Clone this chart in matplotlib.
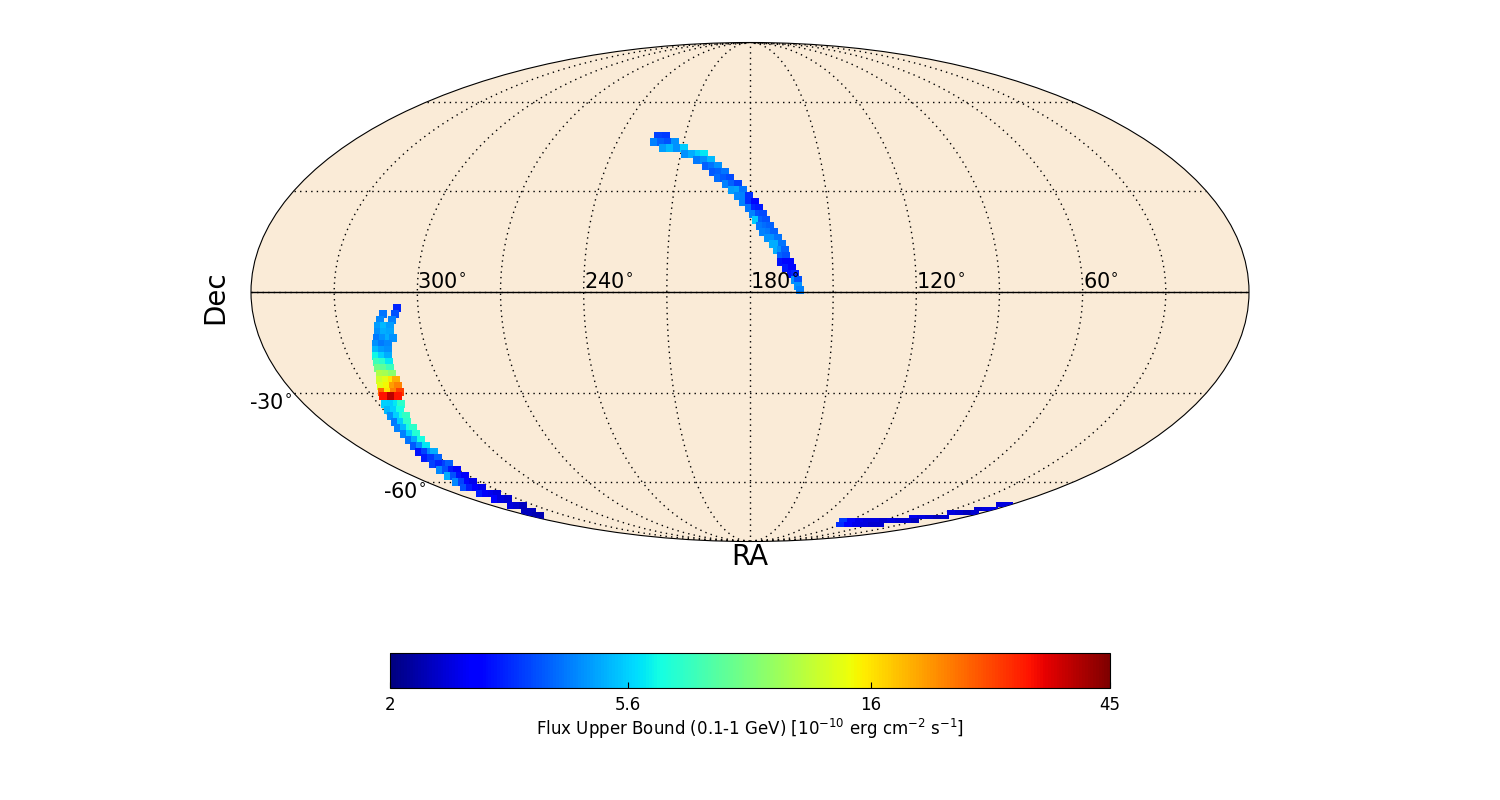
import numpy as np
import matplotlib
matplotlib.use("Agg")
import matplotlib.pyplot as plt
from matplotlib.colors import LogNorm
from matplotlib.colorbar import ColorbarBase
from matplotlib.path import Path

# === Sky pixels, one row per declination (degrees) ===
dec_a = [-4.67, -6.42, -8.18, -9.94, -11.70, -13.47, -15.24, -17.02, -18.81, -20.60, -22.40, -24.21,
         -26.02, -27.85, -29.69, -30.93, -33.42, -35.30, -37.20, -39.12, -41.05, -43.02, -45.00, -47.00,
         -49.05, -51.10, -53.20, -55.37, -57.55, -59.77, -62.05, -64.4, -66.75, -69.35, -72.0, -73.8]
ra_a = [[307.6], [308.5, 312.9], [310.0, 314.3], [315.4, 313.3, 311.1], [315.9, 313.7, 311.5],
        [316.9, 314.7, 312.5, 311.0], [317.9, 315.7, 313.5], [318.7, 316.5, 314.2], [319.5, 317.3, 315.1],
        [320.1, 317.9, 315.6], [320.8, 318.6, 316.3], [321.3, 319.0, 316.7], [322.6, 320.3, 318.0, 316.4],
        [323.7, 321.3, 319.0, 317.0], [324.8, 322.5, 320.1, 317.8], [325.6, 322.4, 319.6],
        [327.3, 324.9, 322.4, 320.8], [328.1, 325.6, 323.2], [329.1, 326.6, 324.1, 322.9],
        [329.9, 327.4, 324.8], [331.3, 328.7, 326.2, 324.9], [331.7, 329.0, 326.4], [332.6, 329.9, 327.3],
        [333.9, 331.1, 328.4], [335.4, 332.6, 329.7, 328.3], [336.8, 333.9, 330.5],
        [337.5, 334.6, 331.1, 329.6], [339.2, 336.2, 333.1, 330.5], [340.9, 337.7, 334.5, 331.8],
        [343.2, 339.8, 336.5, 333.7], [346.2, 342.7, 339.2, 335.7], [345.3, 341.6, 337.9, 334.9],
        [345.1, 341.2, 336.7], [346.8, 342.6, 338.4], [350.9, 345.5], [353.8, 350.6]]
flux_a = [[3.3], [3.8, 4.2], [4.4, 4.5], [4.8, 5.2, 4.8], [4.6, 5.0, 4.9], [4.3, 4.6, 5.0, 4.6],
          [4.6, 4.3, 4.5], [5.2, 4.8, 4.6], [6.3, 5.6, 5.0], [7.5, 7.0, 6.0], [9.0, 8.5, 7.5],
          [11.5, 11.0, 10.0], [13, 14, 16, 19], [14, 15, 20, 22], [24, 16, 22, 28], [32, 38, 32],
          [5.6, 5.5, 6.0, 7.0], [5.2, 5.6, 6.5], [4.6, 5.6, 6.5, 7.2], [4.3, 5.5, 7.0], [4.4, 5.2, 6.5, 7.0],
          [4.4, 5.5, 6.8], [4.2, 5.0, 6.5], [3.9, 4.6, 6.0], [3.1, 3.6, 4.5, 5.0], [3.2, 3.5, 4.0],
          [3.6, 3.3, 3.6, 4.0], [4.5, 3.8, 3.2, 3.0], [5.0, 3.8, 3.1, 2.8], [4.5, 3.6, 3.0, 2.7],
          [3.8, 3.2, 2.9, 2.7], [3.2, 2.8, 2.7, 2.6], [2.9, 2.6, 2.5], [2.6, 2.5, 2.4], [2.4, 2.4], [2.3, 2.3]]

dec_b = [47.68, 45.67, 43.68, 41.70, 39.76, 37.83, 35.93, 34.04, 32.17, 30.31, 28.46, 26.63, 24.81,
         23.0, 21.19, 19.40, 17.62, 15.84, 14.06, 12.29, 10.53, 8.77, 7.01, 5.26, 3.50, 1.75, 0.58]
ra_b = [[222.5, 218.8], [223.3, 220.1, 217.0, 213.8], [218.4, 215.3, 212.2, 209.1],
        [208.1, 205.1, 202.1, 199.9], [202.5, 199.5, 196.6], [198.4, 195.9, 193.4], [195.2, 192.7, 190.3],
        [193.0, 190.5, 188.1], [189.6, 187.2, 184.8], [187.1, 184.7, 182.8], [184.7, 182.3, 180.4],
        [182.7, 180.4, 178.1], [180.4, 178.1, 176.6], [178.9, 176.6, 175.1], [177.7, 175.5, 174.0],
        [176.3, 174.0, 172.5], [175.2, 172.9, 171.1], [173.4, 171.1, 169.7], [171.5, 169.7, 168.2],
        [170.1, 168.7, 167.2], [168.7, 166.9], [168.7, 166.9, 165.5], [167.0, 164.8], [165.2, 163.7],
        [163.8, 162.7], [162.7], [162.0]]
flux_b = [[3.6, 3.5], [4.4, 4.0, 3.8, 4.6], [4.8, 5.2, 4.6, 5.5], [4.6, 5.0, 5.5, 6.0], [4.3, 4.6, 5.2],
          [4.0, 4.2, 4.6], [3.9, 4.0, 4.2], [4.1, 3.9, 3.7], [4.4, 4.0, 3.6], [4.8, 4.9, 4.2], [4.5, 4.4, 3.4],
          [4.4, 3.4, 3.0], [4.2, 3.3, 3.2], [4.4, 3.8, 3.7], [5.5, 4.0, 3.8], [4.3, 4.1, 4.0], [4.4, 4.3, 4.0],
          [4.6, 4.6, 4.2], [5.0, 5.0, 4.2], [5.0, 4.6, 4.0], [4.0, 3.8], [3.1, 3.0, 3.0], [3.2, 3.0],
          [3.1, 3.3], [4.6, 3.8], [4.6], [4.4]]

dec_c = [-68.9, -70.7, -72.4, -74.3, -76.2, -78.2]
ra_c = [[2.2, 7.7], [2.8, 8.6, 14.4], [6.4, 12.6, 18.8, 24.9], [18.6, 25.3, 31.9, 38.5, 45.1],
        [31.7, 38.9, 46.0, 53.2, 60.4, 67.6, 74.8, 82.0, 89.2, 96.4], [50.7, 58.6, 66.6, 74.5, 82.5, 90.5]]
flux_c = [[2.6, 2.6], [2.7, 2.6, 2.5], [2.5, 2.4, 2.5, 2.6], [2.5, 2.4, 2.5, 2.6, 2.7],
          [2.4, 2.5, 2.5, 2.6, 2.5, 2.6, 2.6, 2.7, 3.0, 3.5], [2.5, 2.5, 2.6, 2.7, 3.0, 3.4]]

ra_ticks = [300, 240, 180, 120, 60]
cbar_ticks = [2, 5.6, 16, 45]
flux_min, flux_max = 2, 45

def flatten(dec_rows, ra_rows, flux_rows):
    dec = np.concatenate([[d] * len(r) for d, r in zip(dec_rows, ra_rows)])
    return np.concatenate(ra_rows), dec, np.concatenate(flux_rows)

# flat pixels for the thin southern streak
flat_pixel = Path([(-1, -0.5), (1, -0.5), (1, 0.5), (-1, 0.5), (-1, -0.5)])

# === Figure ===
fig = plt.figure(figsize=(15, 8), dpi=100)
ax = fig.add_axes([251 / 1500, 1 - 542 / 800, 998 / 1500, 500 / 800], projection="mollweide")
ax.set_facecolor("antiquewhite")
ax.set_longitude_grid(30)
ax.set_latitude_grid(30)
ax.set_longitude_grid_ends(90)
ax.grid(True, color="black", linestyle=(0, (1, 3)), linewidth=1.0)

norm = LogNorm(vmin=flux_min, vmax=flux_max)
for dec_rows, ra_rows, flux_rows, size, mark in [(dec_a, ra_a, flux_a, 32, "s"), (dec_b, ra_b, flux_b, 32, "s"),
                                                 (dec_c, ra_c, flux_c, 36, flat_pixel)]:
    ra, dec, flux = flatten(dec_rows, ra_rows, flux_rows)
    ax.scatter(np.radians(180 - ra), np.radians(dec), c=flux, cmap="jet", norm=norm,
               s=size, marker=mark, linewidths=0, zorder=3)

ax.axhline(0, color="black", linewidth=1.0, zorder=4)

# RA labels sit just above the equator, Dec labels just under the rim
ax.set_xticklabels([])
ax.set_yticklabels([])
for ra in ra_ticks:
    ax.annotate("%d$^{\\circ}$" % ra, (np.radians(180 - ra), 0), xytext=(0, 0), textcoords="offset points",
                ha="left", va="bottom", fontsize=15, zorder=5)
fig.text(292 / 1500, 1 - 403 / 800, "-30$^{\\circ}$", ha="right", va="center", fontsize=15)
fig.text(426 / 1500, 1 - 492 / 800, "-60$^{\\circ}$", ha="right", va="center", fontsize=15)

fig.text(750 / 1500, 1 - 557 / 800, "RA", ha="center", va="center", fontsize=20)
fig.text(215 / 1500, 1 - 297 / 800, "Dec", ha="center", va="center", rotation=90, fontsize=20)

# === Colorbar ===
cax = fig.add_axes([390 / 1500, 1 - 688 / 800, 720 / 1500, 35 / 800])
cb = ColorbarBase(cax, cmap=plt.get_cmap("jet"), norm=norm, orientation="horizontal")
cb.set_ticks(cbar_ticks)
cb.set_ticklabels([str(t) for t in cbar_ticks])
cax.minorticks_off()
cax.tick_params(axis="x", direction="in", length=4, width=0.8, labelsize=12, pad=6)
cb.set_label("Flux Upper Bound (0.1-1 GeV) [$10^{-10}$ erg cm$^{-2}$ s$^{-1}$]", fontsize=12, labelpad=2)

fig.savefig("out.png", dpi=100)
